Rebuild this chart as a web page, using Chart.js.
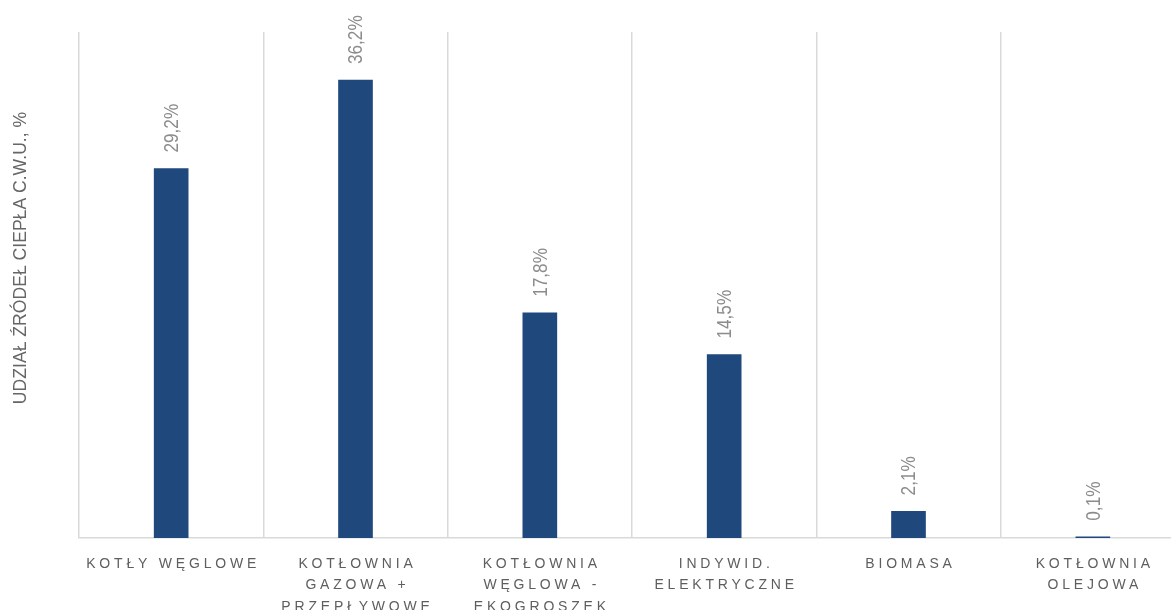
<!DOCTYPE html>
<html>
<head>
<meta charset="utf-8">
<script src="https://cdn.jsdelivr.net/npm/chart.js@4/dist/chart.umd.min.js"></script>
<style>
  html, body { margin: 0; padding: 0; overflow: hidden; background: #fff; }
  #wrap { width: 1185px; height: 610px; }
</style>
</head>
<body>
<div id="wrap"><canvas id="heatChart"></canvas></div>
<script>
// categories (multi-line labels) and values
const categories = [
    ["KOTŁY WĘGLOWE"],
    ["KOTŁOWNIA", "GAZOWA +", "PRZEPŁYWOWE"],
    ["KOTŁOWNIA", "WĘGLOWA -", "EKOGROSZEK"],
    ["INDYWID.", "ELEKTRYCZNE"],
    ["BIOMASA"],
    ["KOTŁOWNIA", "OLEJOWA"]
];
const shares = [29.2, 36.2, 17.8, 14.5, 2.1, 0.1];
const yMin = 0;
const yMax = 40;
const yTitle = "UDZIAŁ ŹRÓDEŁ CIEPŁA C.W.U., %";

const baseFont = '"Liberation Sans", Arial, sans-serif';

// draws the rotated value labels, the spaced-out category names and the axis title
const textPlugin = {
    id: "texts",
    afterDraw(chart) {
        const ctx = chart.ctx;
        const xScale = chart.scales.x;
        const meta = chart.getDatasetMeta(0);

        // value labels above bars (narrowed Arial look)
        ctx.save();
        ctx.fillStyle = "#8c8c8c";
        ctx.font = "21px " + baseFont;
        ctx.textAlign = "left";
        ctx.textBaseline = "middle";
        meta.data.forEach((bar, i) => {
            ctx.save();
            ctx.translate(bar.x, bar.y - 16);
            ctx.rotate(-Math.PI / 2);
            ctx.scale(0.82, 1);
            ctx.fillText(shares[i].toFixed(1).replace(".", ",") + "%", 0, 1);
            ctx.restore();
        });
        ctx.restore();

        // category labels
        ctx.save();
        ctx.fillStyle = "#5e5e5e";
        ctx.font = "14px " + baseFont;
        ctx.letterSpacing = "3.8px";
        ctx.textAlign = "center";
        ctx.textBaseline = "alphabetic";
        categories.forEach((lines, i) => {
            const x = xScale.getPixelForTick(i) + 2;
            lines.forEach((line, k) => {
                ctx.fillText(line, x, xScale.top + 30 + k * 21.3);
            });
        });
        ctx.restore();

        // y axis title
        ctx.save();
        ctx.fillStyle = "#666666";
        ctx.font = "17.6px " + baseFont;
        ctx.textAlign = "center";
        ctx.textBaseline = "middle";
        ctx.translate(21, 258);
        ctx.rotate(-Math.PI / 2);
        ctx.fillText(yTitle, 0, 0);
        ctx.restore();
    }
};

const ctx = document.getElementById("heatChart").getContext("2d");

new Chart(ctx, {
    type: "bar",
    data: {
        labels: categories,
        datasets: [{
            data: shares,
            backgroundColor: "#1f497d",
            borderWidth: 0,
            barThickness: 34
        }]
    },
    options: {
        responsive: true,
        maintainAspectRatio: false,
        animation: false,
        layout: {
            padding: { left: 79, top: 32, right: 0, bottom: 0 }
        },
        plugins: {
            legend: { display: false },
            tooltip: { enabled: false }
        },
        scales: {
            x: {
                offset: true,
                grid: {
                    offset: true,
                    color: "#d9d9d9",
                    lineWidth: 1.5,
                    drawTicks: false
                },
                border: { display: true, color: "#d9d9d9", width: 1.5 },
                ticks: { display: false },
                afterFit(scale) { scale.height = 72; }
            },
            y: {
                display: false,
                min: yMin,
                max: yMax
            }
        }
    },
    plugins: [textPlugin]
});
</script>
</body>
</html>
